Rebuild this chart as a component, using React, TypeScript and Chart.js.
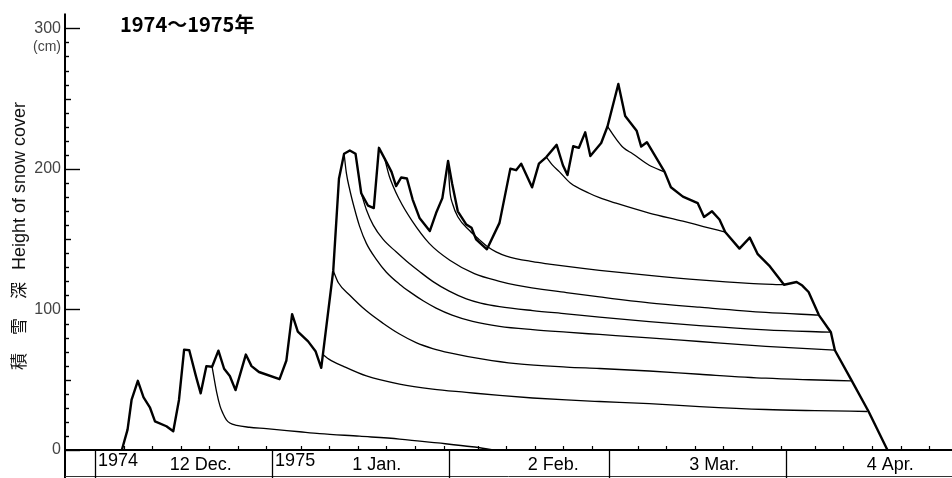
import React, { useEffect, useRef } from 'react';
import { Chart, registerables } from 'chart.js';

Chart.register(...registerables);

// x = days since the start of 1 Dec 1974; y = snow depth (cm)
const monthStarts = [0, 31, 62, 90, 121];
const monthEnds = [31, 62, 90, 121, 151];
const monthLabels = ['12 Dec.', '1 Jan.', '2 Feb.', '3 Mar.', '4 Apr.'];
const monthLabelCenters = [18.5, 49.3, 80.2, 108.4, 139.2];
const yearLabels = ['1974', '1975'];
const yearStarts = [0, 31];
const yTickValues = [0, 100, 200, 300];

const snowDays = [4.7, 5.7, 6.4, 7.5, 8.5, 9.6, 10.5, 12.5, 13.7, 14.7, 15.6, 16.5, 17.7, 18.5, 19.5, 20.5, 21.6, 22.6, 23.6, 24.6, 26.4, 27.4, 28.7, 32.3, 33.5, 34.5, 35.5, 37.3, 38.6, 39.6, 41.7, 42.7, 43.6, 44.6, 45.6, 46.6, 47.8, 48.8, 49.7, 50.7, 51.9, 52.7, 53.6, 54.6, 55.6, 56.8, 58.6, 59.7, 60.8, 61.8, 62.5, 63.5, 65, 65.9, 66.7, 68.6, 70.8, 72.7, 73.7, 74.6, 76.5, 77.7, 79, 80.8, 81.9, 82.7, 83.7, 84.7, 85.8, 86.7, 88.6, 89.7, 91.6, 92.8, 94.8, 95.6, 96.6, 99.7, 100.8, 102.9, 104.2, 105.5, 106.6, 108, 109.3, 110.3, 112.8, 114.6, 116, 118, 120.6, 122.8, 123.8, 124.9, 126.7, 128.8, 129.5, 132.3, 135.4, 138.7];
const snowDepth = [0, 14.5, 35.6, 49.2, 37.5, 30.4, 20.4, 16.9, 13.3, 35.6, 71.4, 71, 52, 40.3, 59.7, 59.2, 70.7, 57.8, 52.7, 42.6, 67.9, 59.7, 55.5, 50.4, 63.7, 96.7, 84.3, 77.3, 70.3, 58.5, 127.6, 193, 210.8, 213.1, 210.8, 182.7, 173.8, 172.1, 215, 207.3, 197.9, 187.8, 193.9, 193.2, 178.2, 165.1, 155.8, 168.6, 179.2, 205.7, 189.7, 169.8, 160.4, 158.1, 149.9, 142.8, 161.6, 200.2, 199.1, 203.7, 186.9, 203.7, 208.4, 217.1, 202.6, 195.6, 216.1, 215, 226, 209.2, 218.4, 230.2, 260.4, 237.7, 227.2, 215.9, 219, 197.9, 186.9, 180.3, 178, 175.6, 165.8, 169.8, 164, 155.1, 143.3, 151.1, 139.3, 131.2, 117.6, 119.5, 117, 112.4, 96, 83.8, 71, 50.4, 27.4, 0];

// settlement curves of individual snow layers: [day, cm]
const layerDec20 = [[20.5, 59.2], [21.3, 41], [21.9, 31], [22.4, 26], [23, 21.5], [23.6, 19.2], [24.8, 17.5], [27, 16.2], [30, 15.2], [35.8, 13], [39.3, 11.7], [46.3, 9.8], [53.3, 7.8], [60, 5], [66, 2.3], [70, 0]];
const layerJan9 = [[39.9, 67.9], [41, 64.5], [43.4, 59.7], [47.5, 52.7], [53.3, 46.9], [59.1, 43.3], [65, 41], [70.8, 38.8], [76.6, 37], [82.5, 35.6], [88.3, 34.5], [97, 33], [105.8, 30.9], [117.4, 28.8], [126, 28], [135.2, 27.4]];
const layerJan11 = [[41.7, 127.6], [42.6, 119], [44.6, 110.1], [47.5, 99], [50.4, 90.2], [53.3, 82.5], [56.2, 76.4], [59.1, 72.2], [62.1, 69.1], [67.9, 64.6], [73.7, 61.4], [82.5, 59], [88.3, 58], [97, 56.2], [105.8, 53.9], [117.4, 51.1], [125, 50], [132.3, 49.2]];
const layerJan13 = [[43.6, 210.8], [44, 197], [44.6, 185], [45.4, 172], [46.3, 159.3], [47.5, 147], [49.2, 135.8], [51, 126.5], [53.3, 118], [55.1, 112.5], [57.5, 106], [59.7, 101], [62.5, 96], [66.1, 91.5], [70.8, 88], [76.6, 85.6], [82.5, 83.8], [88.3, 82.2], [97, 79.8], [105.8, 77.2], [117.4, 73.8], [129.5, 71]];
const layerJan16 = [[46.6, 182.7], [47.5, 171], [48.7, 160], [50.4, 150], [52.7, 141], [54.5, 134.5], [56.8, 127], [59.1, 120], [62, 113], [65, 107.5], [67.5, 104.5], [70.8, 102], [76.6, 99.2], [82.5, 96.9], [88.3, 94.6], [97, 91.4], [105.8, 88.5], [117.4, 85.5], [128.8, 83.8]];
const layerJan20 = [[50.7, 207.3], [51.5, 195], [53.3, 178], [55.5, 163], [58.5, 147], [62.1, 135], [66.4, 125.5], [70.8, 120], [73.7, 117.3], [82.5, 112], [88.3, 108.9], [97, 104.7], [105.8, 101.6], [117.4, 97.9], [126.7, 96]];
const layerJan31 = [[61.8, 205.7], [62.1, 185], [62.6, 175], [63.5, 166], [65.6, 156], [67.3, 149.5], [68.6, 145], [70.2, 141], [72, 138], [76.6, 134], [79.5, 132.3], [85.4, 129.2], [88.3, 127.8], [97, 124.2], [105.8, 121], [114.5, 118.6], [120.6, 117.6]];
const layerFeb17 = [[79, 208.4], [80, 203], [81.3, 197.9], [83.2, 190], [86.5, 182.7], [88.3, 179.5], [91.2, 175.6], [97, 168.6], [102.9, 162.8], [106.5, 159], [110.3, 155.1]];
const layerFeb28 = [[89.7, 230.2], [91.2, 221.3], [92.5, 215], [94.1, 210.8], [97, 202.6], [99.7, 197.9]];

const SANS = '"Liberation Sans", Arial, sans-serif';
const CJK = '"Noto Sans CJK JP", "Noto Sans CJK SC", sans-serif';

const decorPlugin = {
  id: 'decor',
  afterDraw(chart: any) {
    const { ctx, chartArea } = chart;
    const xs = chart.scales.x;
    const ys = chart.scales.y;
    const left = chartArea.left;
    const right = chartArea.right;
    const base = ys.getPixelForValue(0);
    const H = chart.height;
    ctx.save();
    ctx.strokeStyle = '#000';
    ctx.fillStyle = '#000';
    // y axis line
    ctx.lineWidth = 2;
    ctx.beginPath();
    ctx.moveTo(left, chartArea.top);
    ctx.lineTo(left, H);
    ctx.stroke();
    // y ticks (inside)
    ctx.lineWidth = 1.4;
    for (let v = 0; v <= 300; v += 10) {
      const py = Math.round(ys.getPixelForValue(v)) + 0.5;
      const len = v % 100 === 0 ? 15 : v % 50 === 0 ? 6 : 4;
      ctx.beginPath();
      ctx.moveTo(left, py);
      ctx.lineTo(left + len, py);
      ctx.stroke();
    }
    // baseline
    ctx.lineWidth = 2;
    ctx.beginPath();
    ctx.moveTo(left, base);
    ctx.lineTo(right, base);
    ctx.stroke();
    // x ticks every 5 days inside each month
    ctx.lineWidth = 1.2;
    monthStarts.forEach((s, i) => {
      for (let d = s + 5; d < monthEnds[i] - 0.5; d += 5) {
        if (d > xs.max) break;
        const px = Math.round(xs.getPixelForValue(d)) + 0.5;
        ctx.beginPath();
        ctx.moveTo(px, base);
        ctx.lineTo(px, base - 4);
        ctx.stroke();
      }
    });
    // date box
    ctx.lineWidth = 1;
    ctx.strokeStyle = '#333';
    ctx.beginPath();
    ctx.moveTo(left, H - 1.5);
    ctx.lineTo(right, H - 1.5);
    ctx.stroke();
    ctx.strokeStyle = '#000';
    ctx.lineWidth = 1.3;
    monthStarts.forEach((s) => {
      const px = Math.round(xs.getPixelForValue(s)) + 0.5;
      ctx.beginPath();
      ctx.moveTo(px, base);
      ctx.lineTo(px, H);
      ctx.stroke();
    });
    ctx.font = `18px ${SANS}`;
    ctx.textBaseline = 'alphabetic';
    ctx.textAlign = 'center';
    monthLabels.forEach((lab, i) => {
      ctx.fillText(lab, xs.getPixelForValue(monthLabelCenters[i]), base + 20);
    });
    ctx.textAlign = 'left';
    yearLabels.forEach((lab, i) => {
      ctx.fillText(lab, xs.getPixelForValue(yearStarts[i]) + 3, base + 16);
    });
    // (cm) under 300
    ctx.fillStyle = '#444';
    ctx.font = `14px ${SANS}`;
    ctx.textAlign = 'right';
    ctx.textBaseline = 'middle';
    ctx.fillText('(cm)', left - 4, ys.getPixelForValue(300) + 19);
    // title
    ctx.fillStyle = '#000';
    ctx.font = `bold 20px ${CJK}`;
    ctx.textAlign = 'left';
    ctx.textBaseline = 'alphabetic';
    ctx.fillText('1974～1975年', left + 55, 32);
    // y axis title (rotated)
    ctx.save();
    ctx.translate(25, 0);
    ctx.rotate(-Math.PI / 2);
    ctx.fillStyle = '#111';
    ctx.font = `17px ${CJK}`;
    ctx.textBaseline = 'alphabetic';
    ctx.textAlign = 'left';
    ctx.fillText('積', -370, 0);
    ctx.fillText('雪', -335, 0);
    ctx.fillText('深', -299, 0);
    ctx.font = `18px ${SANS}`;
    ctx.fillText('Height of snow cover', -270, 0);
    ctx.restore();
    ctx.restore();
  },
};

const toPts = (arr: number[][]) => arr.map(([x, y]) => ({ x, y }));

export default function App() {
  const ref = useRef<HTMLCanvasElement>(null);
  useEffect(() => {
    const canvas = ref.current;
    if (!canvas) return;
    const layers = [layerDec20, layerJan9, layerJan11, layerJan13, layerJan16, layerJan20, layerJan31, layerFeb17, layerFeb28];
    const datasets: any[] = [
      {
        data: snowDays.map((x, i) => ({ x, y: snowDepth[i] })),
        borderColor: '#000',
        borderWidth: 2.4,
        pointRadius: 0,
        tension: 0,
        borderJoinStyle: 'round',
        clip: false,
      },
      ...layers.map((l) => ({
        data: toPts(l),
        borderColor: '#000',
        borderWidth: 1.3,
        pointRadius: 0,
        cubicInterpolationMode: 'monotone',
        clip: false,
      })),
    ];
    const chart = new Chart(canvas, {
      type: 'line',
      data: { datasets },
      options: {
        responsive: false,
        maintainAspectRatio: false,
        animation: false,
        devicePixelRatio: 1,
        layout: { padding: { top: 8, left: 0, right: 0, bottom: 0 } },
        plugins: { legend: { display: false }, tooltip: { enabled: false }, title: { display: false } },
        scales: {
          x: {
            type: 'linear',
            min: -5.25,
            max: 150,
            grid: { display: false, drawTicks: false },
            border: { display: false },
            ticks: { display: false },
            afterFit: (s: any) => { s.height = 28; },
          },
          y: {
            type: 'linear',
            min: 0,
            max: 310.5,
            grid: { display: false, drawTicks: false },
            border: { display: false },
            afterBuildTicks: (s: any) => { s.ticks = yTickValues.map((v) => ({ value: v })); },
            ticks: {
              padding: 4,
              color: '#444',
              font: { family: SANS, size: 16 },
              callback: (v: any) => String(v),
            },
            afterFit: (s: any) => { s.width = 65; },
          },
        },
      } as any,
      plugins: [decorPlugin],
    });
    return () => chart.destroy();
  }, []);
  return (
    <canvas
      ref={ref}
      width={952}
      height={478}
      style={{ position: 'absolute', left: 0, top: 0, width: 952, height: 478 }}
    />
  );
}
